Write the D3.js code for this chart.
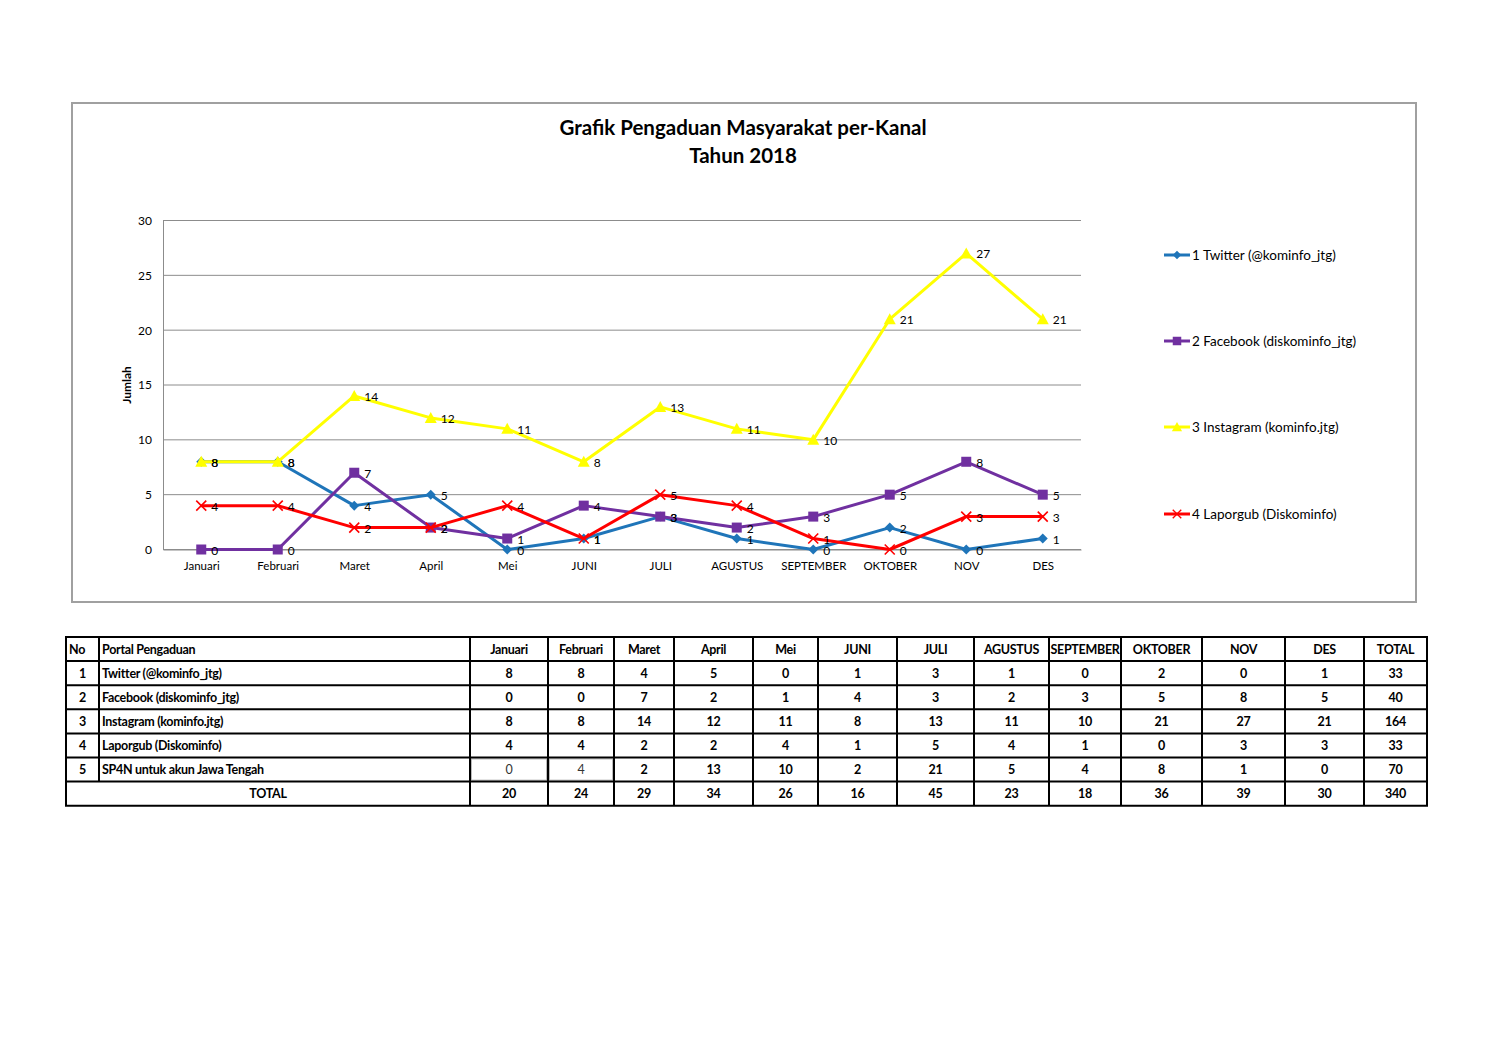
<!DOCTYPE html>
<html>
<head>
<meta charset="utf-8">
<script src="https://cdn.jsdelivr.net/npm/d3@7"></script>
<style>
  body { margin: 0; background: #fff; }
  svg text { font-family: Lato, "Liberation Sans", sans-serif; }
</style>
</head>
<body>
<div id="page"></div>
<script>
// chart data
const months = ['Januari', 'Februari', 'Maret', 'April', 'Mei', 'JUNI', 'JULI', 'AGUSTUS', 'SEPTEMBER', 'OKTOBER', 'NOV', 'DES'];
const seriesNames = ['1 Twitter (@kominfo_jtg)', '2 Facebook (diskominfo_jtg)', '3 Instagram (kominfo.jtg)', '4 Laporgub (Diskominfo)'];
const twitter = [8, 8, 4, 5, 0, 1, 3, 1, 0, 2, 0, 1];
const facebook = [0, 0, 7, 2, 1, 4, 3, 2, 3, 5, 8, 5];
const instagram = [8, 8, 14, 12, 11, 8, 13, 11, 10, 21, 27, 21];
const laporgub = [4, 4, 2, 2, 4, 1, 5, 4, 1, 0, 3, 3];
const yTicks = [0, 5, 10, 15, 20, 25, 30];

// table data
const portals = ['Twitter (@kominfo_jtg)', 'Facebook (diskominfo_jtg)', 'Instagram (kominfo.jtg)', 'Laporgub (Diskominfo)', 'SP4N untuk akun Jawa Tengah'];
const sp4n = [0, 4, 2, 13, 10, 2, 21, 5, 4, 8, 1, 0];
const rowTotals = [33, 40, 164, 33, 70];
const monthTotals = [20, 24, 29, 34, 26, 16, 45, 23, 18, 36, 39, 30];
const grandTotal = 340;

const w = 1497;
const h = 1058;

const svg = d3.select('#page').append('svg').attr('width', w).attr('height', h);

// chart frame
svg.append('rect')
  .attr('x', 72).attr('y', 103).attr('width', 1344).attr('height', 499)
  .attr('fill', '#fff').attr('stroke', '#a0a0a0').attr('stroke-width', 2);

svg.append('text').attr('x', 743).attr('y', 135).attr('text-anchor', 'middle')
  .attr('font-size', 20.5).attr('font-weight', 'bold').text('Grafik Pengaduan Masyarakat per-Kanal');
svg.append('text').attr('x', 743).attr('y', 163).attr('text-anchor', 'middle')
  .attr('font-size', 20.5).attr('font-weight', 'bold').text('Tahun 2018');

const xScale = d3.scalePoint().domain(months).range([163, 1081]).padding(0.5);
const yScale = d3.scaleLinear().domain([0, 30]).range([549.5, 220.5]);

// gridlines
svg.append('g')
  .selectAll('line').data(yTicks).enter().append('line')
  .attr('x1', 163).attr('x2', 1081)
  .attr('y1', (d) => yScale(d)).attr('y2', (d) => yScale(d))
  .attr('stroke', '#8c8c8c').attr('stroke-width', 1);

const yAxis = d3.axisLeft(yScale).tickValues(yTicks).tickSize(0).tickPadding(11);
const gy = svg.append('g').attr('transform', 'translate(163,0)').call(yAxis);
gy.select('.domain').attr('stroke', '#8c8c8c');
gy.selectAll('text').attr('font-size', 12).attr('fill', '#000')
  .style('font-family', 'Lato, sans-serif');

const xAxis = d3.axisBottom(xScale).tickSize(0).tickPadding(12);
const gx = svg.append('g').attr('transform', 'translate(0,549.5)').call(xAxis);
gx.select('.domain').attr('stroke', '#8c8c8c');
gx.selectAll('text').attr('font-size', 11.5).attr('fill', '#000')
  .style('font-family', 'Lato, sans-serif');

svg.append('text')
  .attr('transform', 'translate(131,385) rotate(-90)')
  .attr('text-anchor', 'middle').attr('font-size', 12).attr('font-weight', 'bold')
  .text('Jumlah');

const series = [
  { name: seriesNames[0], values: twitter, color: '#1f75b9', marker: 'diamond' },
  { name: seriesNames[1], values: facebook, color: '#7030a0', marker: 'square' },
  { name: seriesNames[2], values: instagram, color: '#ffff00', marker: 'triangle' },
  { name: seriesNames[3], values: laporgub, color: '#ff0000', marker: 'cross' },
];

function drawMarker(g, type, color) {
  if (type === 'diamond') {
    g.append('path').attr('d', 'M0,-5L5,0L0,5L-5,0Z').attr('fill', color);
  } else if (type === 'square') {
    g.append('rect').attr('x', -5).attr('y', -5).attr('width', 10).attr('height', 10).attr('fill', color);
  } else if (type === 'triangle') {
    g.append('path').attr('d', 'M0,-6L6,5L-6,5Z').attr('fill', color);
  } else {
    g.append('path').attr('d', 'M-5,-5L5,5M-5,5L5,-5').attr('stroke', color)
      .attr('stroke-width', 1.6).attr('fill', 'none');
  }
}

const line = d3.line()
  .x((d, i) => xScale(months[i]))
  .y((d) => yScale(d));

series.forEach((s) => {
  const g = svg.append('g');
  g.append('path').datum(s.values).attr('d', line)
    .attr('fill', 'none').attr('stroke', s.color).attr('stroke-width', 3)
    .attr('stroke-linejoin', 'round');
  g.selectAll('g.pt').data(s.values).enter().append('g')
    .attr('class', 'pt')
    .attr('transform', (d, i) => `translate(${xScale(months[i])},${yScale(d)})`)
    .each(function () { drawMarker(d3.select(this), s.marker, s.color); });
});

// data labels on top
series.forEach((s) => {
  svg.append('g').selectAll('text').data(s.values).enter().append('text')
    .attr('x', (d, i) => xScale(months[i]) + 10)
    .attr('y', (d) => yScale(d) + 5)
    .attr('font-size', 12)
    .text((d) => d);
});

// legend
const legend = svg.append('g').attr('transform', 'translate(1164,0)');
const legendY = [255, 341, 427, 514];
series.forEach((s, i) => {
  const g = legend.append('g').attr('transform', `translate(0,${legendY[i]})`);
  g.append('line').attr('x1', 0).attr('x2', 26).attr('stroke', s.color).attr('stroke-width', 3);
  const m = g.append('g').attr('transform', 'translate(13,0) scale(0.85)');
  drawMarker(m, s.marker, s.color);
  g.append('text').attr('x', 28).attr('y', 5).attr('font-size', 13.5).text(s.name);
});

// table
const colEdges = [66, 99, 470, 548, 614, 674, 753, 818, 897, 974, 1049, 1121, 1202, 1285, 1364, 1427];
const rowTop = 637;
const rowH = 24.1;
const nRows = 7;
const table = svg.append('g').attr('font-weight', 'bold').attr('font-size', 12.5)
  .attr('letter-spacing', -0.3);

const rowY = (r) => rowTop + r * rowH;
const colMid = (c) => (colEdges[c] + colEdges[c + 1]) / 2;

const cell = (c, r, txt, anchor, bold = true, fill = '#000') => {
  let x = colMid(c);
  if (anchor === 'start') x = colEdges[c] + 3;
  table.append('text').attr('x', x).attr('y', rowY(r) + rowH / 2 + 4.5)
    .attr('text-anchor', anchor).attr('font-weight', bold ? 'bold' : 'normal')
    .attr('fill', fill).text(txt);
};

// header
cell(0, 0, 'No', 'start');
cell(1, 0, 'Portal Pengaduan', 'start');
months.forEach((m, i) => cell(i + 2, 0, m, 'middle'));
cell(14, 0, 'TOTAL', 'middle');

const rows = [twitter, facebook, instagram, laporgub, sp4n];
rows.forEach((vals, r) => {
  cell(0, r + 1, String(r + 1), 'middle');
  cell(1, r + 1, portals[r], 'start');
  vals.forEach((v, i) => {
    const plain = r === 4 && i < 2;
    cell(i + 2, r + 1, v, 'middle', !plain, plain ? '#333' : '#000');
  });
  cell(14, r + 1, rowTotals[r], 'middle');
});

table.append('text').attr('x', (colEdges[0] + colEdges[2]) / 2).attr('y', rowY(6) + rowH / 2 + 4.5)
  .attr('text-anchor', 'middle').text('TOTAL');
monthTotals.forEach((v, i) => cell(i + 2, 6, v, 'middle'));
cell(14, 6, grandTotal, 'middle');

// thin grey boxes of the two plain cells
[2, 3].forEach((c) => {
  table.append('rect').attr('x', colEdges[c] + 1.5).attr('y', rowY(5) + 1.5)
    .attr('width', colEdges[c + 1] - colEdges[c] - 3).attr('height', rowH - 3)
    .attr('fill', 'none').attr('stroke', '#bbb').attr('stroke-width', 1);
});

// grid lines
const grid = svg.append('g').attr('stroke', '#000').attr('stroke-width', 2);
d3.range(nRows + 1).forEach((r) => {
  grid.append('line').attr('x1', colEdges[0] - 1).attr('x2', colEdges[colEdges.length - 1] + 1)
    .attr('y1', rowY(r)).attr('y2', rowY(r));
});
colEdges.forEach((x, c) => {
  // No | Portal divider does not cross the TOTAL row
  const y2 = c === 1 ? rowY(6) : rowY(7);
  grid.append('line').attr('x1', x).attr('x2', x).attr('y1', rowY(0)).attr('y2', y2);
});
</script>
</body>
</html>
